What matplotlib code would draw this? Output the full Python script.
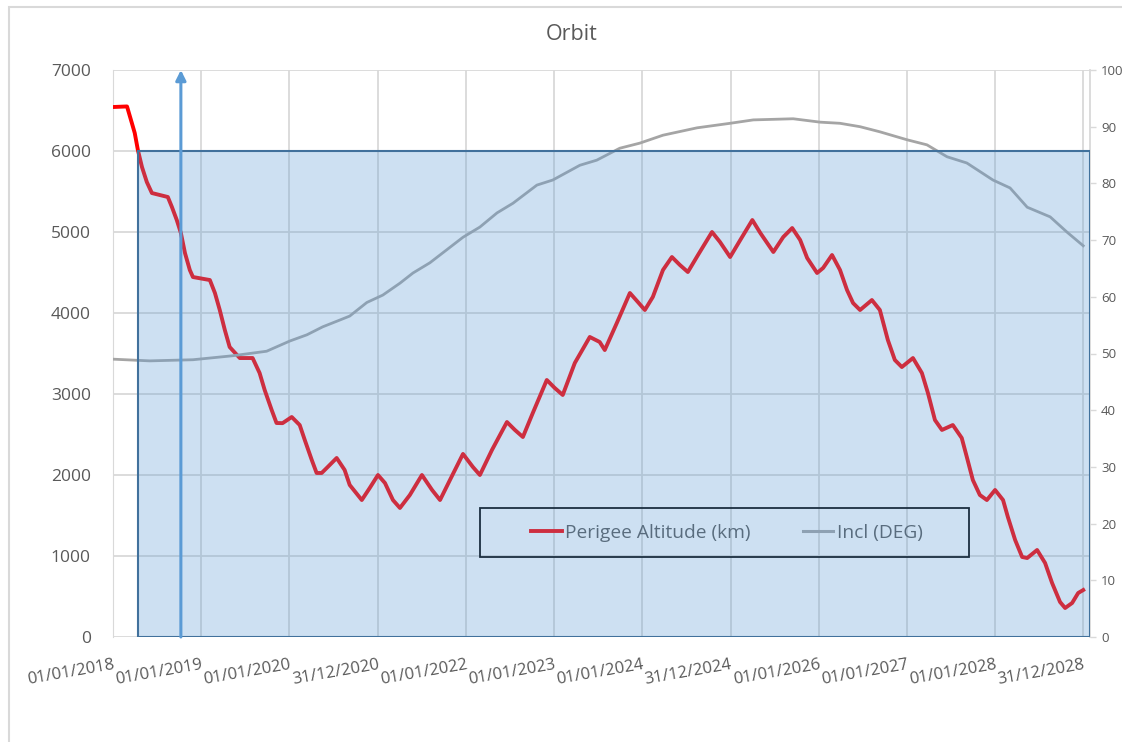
import numpy as np
import pandas as pd
import matplotlib
matplotlib.use("Agg")
import matplotlib.pyplot as plt
import matplotlib.dates as mdates
from matplotlib.patches import Rectangle
from matplotlib.lines import Line2D

"""
Orbit chart: perigee altitude (left axis) and inclination (right axis)
"""

# perigee altitude (km)
perigee_dates = [
    "2018-01-01", "2018-02-28", "2018-03-20", "2018-04-01", "2018-04-14", "2018-05-01",
    "2018-05-21", "2018-06-11", "2018-08-16", "2018-09-02", "2018-09-22", "2018-10-09",
    "2018-10-26", "2018-11-15", "2018-11-28", "2019-02-06", "2019-02-27", "2019-03-19",
    "2019-04-09", "2019-04-29", "2019-06-10", "2019-08-02", "2019-08-31", "2019-09-21",
    "2019-10-20", "2019-11-09", "2019-12-04", "2020-01-11", "2020-02-13", "2020-03-05",
    "2020-04-03", "2020-04-23", "2020-05-14", "2020-06-08", "2020-07-15", "2020-08-17",
    "2020-09-07", "2020-10-27", "2020-11-29", "2021-01-02", "2021-01-31", "2021-03-05",
    "2021-04-03", "2021-05-14", "2021-07-03", "2021-08-14", "2021-09-16", "2021-10-27",
    "2021-12-20", "2022-01-30", "2022-02-28", "2022-04-19", "2022-06-20", "2022-07-23",
    "2022-08-25", "2022-10-05", "2022-12-02", "2023-01-04", "2023-02-06", "2023-03-28",
    "2023-05-29", "2023-07-09", "2023-07-30", "2023-09-18", "2023-11-11", "2023-12-14",
    "2024-01-12", "2024-02-14", "2024-03-27", "2024-05-03", "2024-06-05", "2024-07-08",
    "2024-08-19", "2024-10-16", "2024-11-18", "2024-12-30", "2025-02-10", "2025-04-01",
    "2025-05-04", "2025-06-27", "2025-08-07", "2025-09-13", "2025-10-16", "2025-11-14",
    "2025-12-25", "2026-01-19", "2026-02-25", "2026-03-30", "2026-04-28", "2026-05-23",
    "2026-06-21", "2026-08-09", "2026-09-11", "2026-10-14", "2026-11-12", "2026-12-11",
    "2027-01-26", "2027-03-04", "2027-03-29", "2027-04-27", "2027-05-26", "2027-07-10",
    "2027-08-16", "2027-09-06", "2027-10-01", "2027-10-30", "2027-11-28", "2028-01-01",
    "2028-02-03", "2028-02-23", "2028-03-24", "2028-04-22", "2028-05-13", "2028-06-23",
    "2028-07-26", "2028-08-24", "2028-09-26", "2028-10-17", "2028-11-15", "2028-12-10",
    "2028-12-31",
]
perigee_km = [
    6543, 6550, 6346, 6222, 6012, 5802,
    5617, 5481, 5432, 5308, 5148, 4988,
    4740, 4531, 4444, 4407, 4247, 4037,
    3790, 3580, 3444, 3444, 3259, 3049,
    2802, 2642, 2640, 2716, 2617, 2432,
    2185, 2025, 2025, 2099, 2210, 2062,
    1877, 1691, 1840, 2000, 1901, 1691,
    1593, 1753, 2000, 1815, 1691, 1938,
    2260, 2099, 2000, 2309, 2654, 2556,
    2469, 2765, 3173, 3074, 2988, 3383,
    3704, 3642, 3543, 3877, 4247, 4136,
    4037, 4198, 4531, 4691, 4593, 4506,
    4716, 5000, 4877, 4691, 4901, 5148,
    4988, 4753, 4938, 5049, 4901, 4679,
    4494, 4556, 4716, 4531, 4284, 4123,
    4037, 4160, 4037, 3667, 3420, 3333,
    3444, 3259, 3012, 2679, 2556, 2617,
    2457, 2222, 1938, 1753, 1691, 1815,
    1691, 1481, 1198, 988, 975, 1074,
    914, 667, 432, 358, 420, 543,
    580,
]

# inclination (deg), right axis
incl_dates = [
    "2018-01-01", "2018-06-02", "2018-11-28", "2019-05-11", "2019-09-29", "2020-01-03",
    "2020-03-14", "2020-05-18", "2020-07-28", "2020-09-07", "2020-11-17", "2021-01-22",
    "2021-04-03", "2021-05-27", "2021-08-05", "2021-12-20", "2022-02-28", "2022-05-10",
    "2022-07-15", "2022-10-22", "2022-12-27", "2023-04-18", "2023-06-27", "2023-09-30",
    "2023-12-22", "2024-03-27", "2024-08-15", "2024-12-30", "2025-04-05", "2025-09-17",
    "2026-01-07", "2026-03-30", "2026-06-21", "2026-09-11", "2027-01-01", "2027-03-25",
    "2027-06-16", "2027-09-06", "2027-12-23", "2028-03-03", "2028-05-13", "2028-08-16",
    "2028-10-25", "2028-12-31",
]
incl_deg = [
    49.0, 48.7, 48.9, 49.6, 50.4, 52.2,
    53.3, 54.7, 55.9, 56.6, 59.0, 60.3,
    62.4, 64.2, 66.0, 70.5, 72.3, 74.8,
    76.5, 79.7, 80.6, 83.2, 84.1, 86.2,
    87.1, 88.5, 89.8, 90.6, 91.2, 91.4,
    90.8, 90.6, 90.0, 89.1, 87.7, 86.8,
    84.7, 83.6, 80.6, 79.2, 75.8, 74.1,
    71.4, 69.0,
]

tick_labels = [
    "01/01/2018", "01/01/2019", "01/01/2020", "31/12/2020", "01/01/2022", "01/01/2023",
    "01/01/2024", "31/12/2024", "01/01/2026", "01/01/2027", "01/01/2028", "31/12/2028",
]

# highlighted window and marker arrow
window_start = "2018-04-14"
window_end = "2029-01-26"
window_top = 6000
arrow_date = "2018-10-09"
arrow_top = 7000

x_start = pd.Timestamp("2018-01-01")
x_end = pd.Timestamp("2029-01-28")

TXT = "#595959"
GRID = "#d9d9d9"
plt.rcParams["font.family"] = ["Open Sans", "DejaVu Sans"]

fig = plt.figure(figsize=(11.22, 7.42), dpi=100)
ax = fig.add_axes([113 / 1122, 1 - 637 / 742, (1090 - 113) / 1122, 567 / 742])
ax2 = ax.twinx()

# chart area border (only left/top are in frame)
fig.add_artist(Rectangle((9 / 1122, -0.1), 1.2, 1 - 7 / 742 + 0.1, transform=fig.transFigure,
                         fill=False, edgecolor=GRID, lw=1.5))

ax.plot(pd.to_datetime(perigee_dates), perigee_km, color="#ff0000", lw=2.8,
        label="Perigee Altitude (km)", zorder=3)
ax2.plot(pd.to_datetime(incl_dates), incl_deg, color="#a5a5a5", lw=2.0,
         label="Incl (DEG)", zorder=3)

ax.set_xlim(x_start, x_end)
ax.set_ylim(0, 7000)
ax2.set_ylim(0, 100)

tick_pos = x_start + pd.to_timedelta(np.arange(len(tick_labels)) * 365.25, unit="D")
ax.set_xticks(tick_pos)
ax.set_xticklabels(tick_labels, rotation=10, ha="right", va="top", rotation_mode="anchor")
ax.set_yticks(np.arange(0, 7001, 1000))
ax2.set_yticks(np.arange(0, 101, 10))

ax.grid(True, color=GRID, lw=1.3)
ax.set_axisbelow(True)
ax.tick_params(axis="x", length=0, pad=14, labelsize=12, labelcolor=TXT)
ax.tick_params(axis="y", length=0, pad=16, labelsize=12.5, labelcolor=TXT)
ax2.tick_params(axis="y", length=4, width=1, color=GRID, pad=4, labelsize=9.5, labelcolor=TXT)

for s in ["top", "right", "bottom"]:
    ax.spines[s].set_visible(False)
ax.spines["left"].set_color(GRID)
for s in ["top", "left", "bottom"]:
    ax2.spines[s].set_visible(False)
ax2.spines["right"].set_color(GRID)
ax2.spines["right"].set_linewidth(1.3)

fig.text(572 / 1122, 1 - 35 / 742, "Orbit", ha="center", va="center", fontsize=15.5, color=TXT)

# legend (drawn under the translucent window)
handles = [Line2D([], [], color="#ff0000", lw=2.8), Line2D([], [], color="#a5a5a5", lw=2.2)]
leg = ax2.legend(handles, ["Perigee Altitude (km)", "Incl (DEG)"], ncol=2, frameon=False,
                 loc="center", bbox_to_anchor=((727 - 113) / 977, (637 - 533) / 567),
                 fontsize=13.8, labelcolor=TXT, handlelength=1.6, handletextpad=0.2,
                 columnspacing=2.7)
leg.set_zorder(4)
ax2.add_patch(Rectangle(((480 - 113) / 977, (637 - 557) / 567), (969 - 480) / 977, 49 / 567,
                        transform=ax2.transAxes, fill=False, edgecolor="black", lw=1.3, zorder=4))

# translucent highlighted window on top of the series
x0 = mdates.date2num(pd.Timestamp(window_start))
x1 = mdates.date2num(pd.Timestamp(window_end))
ax2.add_patch(Rectangle((x0, 0), x1 - x0, window_top, transform=ax.transData,
                        facecolor="#5b9bd5", alpha=0.3, edgecolor="none", zorder=6))
ax2.add_patch(Rectangle((x0, 0), x1 - x0, window_top, transform=ax.transData,
                        fill=False, edgecolor="#41719c", lw=1.5, zorder=6))

xa = mdates.date2num(pd.Timestamp(arrow_date))
ax2.annotate("", xy=(xa, arrow_top), xycoords=ax.transData,
             xytext=(xa, 0), textcoords=ax.transData,
             arrowprops=dict(arrowstyle="-|>,head_length=0.6,head_width=0.3",
                             color="#5b9bd5", lw=2.2, shrinkA=0, shrinkB=0),
             zorder=7, annotation_clip=False)

fig.savefig("out.png", dpi=100)
